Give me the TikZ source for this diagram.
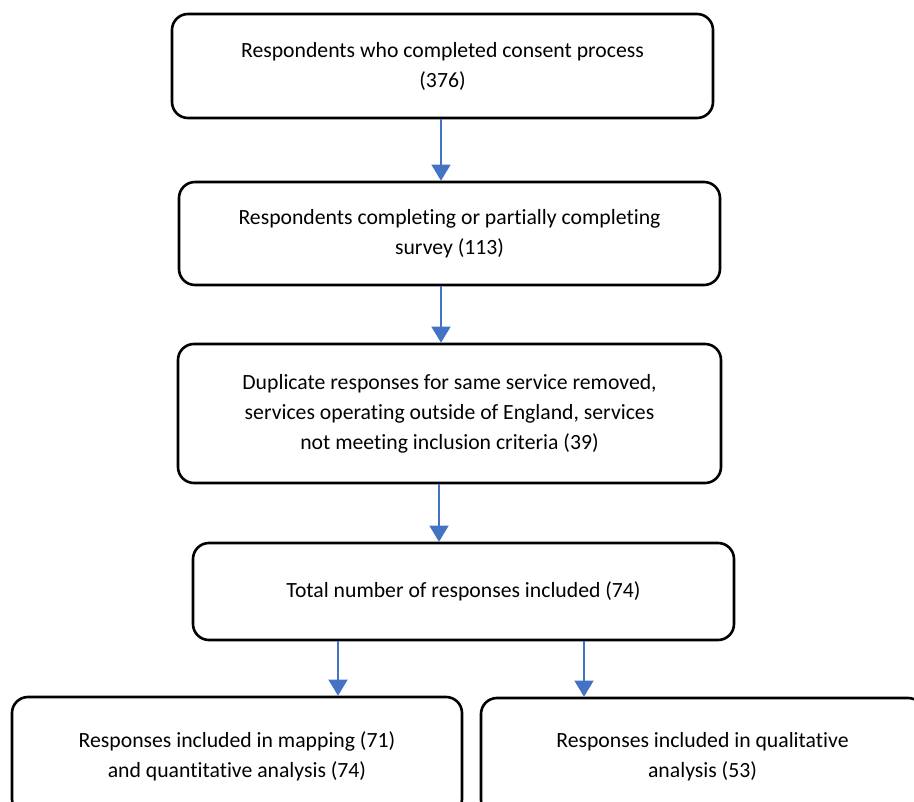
\documentclass[tikz,border=0pt]{standalone}
\usepackage{fontspec}
\setmainfont{Carlito}[Ligatures=NoCommon]
\usetikzlibrary{arrows.meta}

\begin{document}
\begin{tikzpicture}[x=1pt, y=-1pt,
  flowbox/.style={draw=black, line width=2.6pt, rounded corners=16pt, align=center,
    inner sep=0pt, font=\fontsize{21.7}{30}\selectfont},
  flowarrow/.style={draw={rgb,255:red,68;green,114;blue,196}, line width=1.2pt,
    -{Triangle[width=19pt,length=16pt]}}]
\useasboundingbox (0, 0) rectangle (914, 802);
\clip (0, 0) rectangle (914, 802);
\fill[white] (0, 0) rectangle (914, 802);
% boxes
\node [flowbox, minimum width=541pt, minimum height=104pt] (consent) at (442.5, 66)
  {Respondents who completed consent process\\(376)};
\node [flowbox, minimum width=541pt, minimum height=103pt] (survey) at (449.5, 233.5)
  {Respondents completing or partially completing\\survey (113)};
\node [flowbox, minimum width=543pt, minimum height=139pt] (removed) at (449.5, 413.5)
  {Duplicate responses for same service removed,\\services operating outside of England, services\\not meeting inclusion criteria (39)};
\node [flowbox, minimum width=541pt, minimum height=97pt] (total) at (463.5, 591.5)
  {Total number of responses included (74)};
\node [flowbox, minimum width=450pt, minimum height=118pt] (mapping) at (237, 756)
  {Responses included in mapping (71)\\and quantitative analysis (74)};
\node [flowbox, minimum width=443pt, minimum height=118pt] (qualit) at (702.5, 757)
  {Responses included in qualitative\\analysis (53)};
% arrows
\draw [flowarrow] (consent.south -| 441, 0) -- (survey.north -| 441, 0);
\draw [flowarrow] (survey.south -| 441, 0) -- (removed.north -| 441, 0);
\draw [flowarrow] (removed.south -| 439, 0) -- (total.north -| 439, 0);
\draw [flowarrow] (total.south -| 338, 0) -- (mapping.north -| 338, 0);
\draw [flowarrow] (total.south -| 584, 0) -- (qualit.north -| 584, 0);
\end{tikzpicture}
\end{document}
